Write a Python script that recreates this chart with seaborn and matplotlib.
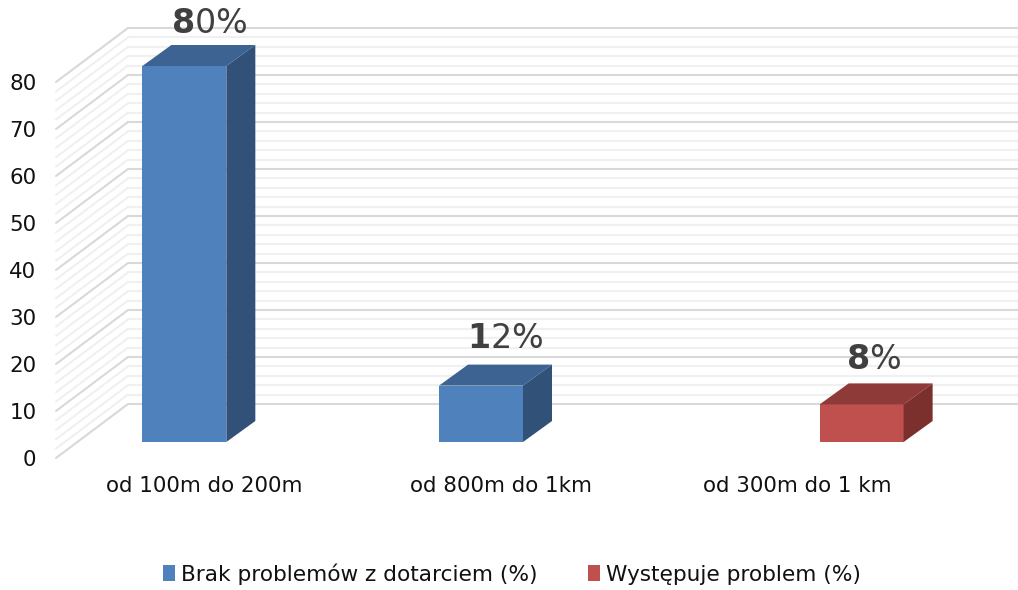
import matplotlib
matplotlib.use('Agg')
from matplotlib import pyplot as plt
from matplotlib.patches import Polygon
from matplotlib.transforms import Affine2D, IdentityTransform
import pandas as pd
import seaborn as sns

categories = ['od 100m do 200m', 'od 800m do 1km', 'od 300m do 1 km']
series_names = ['Brak problemów z dotarciem (%)', 'Występuje problem (%)']
bar_categories = ['od 100m do 200m', 'od 800m do 1km', 'od 300m do 1 km']
bar_series = [series_names[0], series_names[0], series_names[1]]
bar_values = [80, 12, 8]
y_ticks = list(range(0, 81, 10))
minor_ticks = [v for v in range(0, 81, 2) if v % 10]

FONT = 15.4
FRONT = {series_names[0]: '#4F81BD', series_names[1]: '#C0504D'}
TOP = {'#4F81BD': '#3C6392', '#C0504D': '#8E3A38'}
SIDE = {'#4F81BD': '#325178', '#C0504D': '#7C302E'}

# pixel offsets of the fake 3d depth
WALL = (72, 54)
BAR_PLANE = (22, 16)
BAR_DEPTH = (29, 21)
LABEL_LIFT = [12, 17, 14]
LABEL_SHIFT = [0, -1, -3]

sns.set_theme(style='white')
plt.rcParams['mathtext.fontset'] = 'dejavusans'

df = pd.DataFrame({'zasieg': bar_categories, 'seria': bar_series, 'procent': bar_values})

fig = plt.figure(figsize=(10.18, 5.9), dpi=100)
ax = fig.add_axes([56 / 1018, (590 - 458) / 590, 890 / 1018, 376 / 590])
sns.barplot(df, x='zasieg', y='procent', hue='seria', order=categories,
            hue_order=series_names, palette=FRONT, saturation=1, width=0.566,
            gap=0, dodge=True, linewidth=0, ax=ax, zorder=3)
ax.set_xlim(-0.5, 2.5)
ax.set_ylim(0, 80)
ax.set_xlabel('')
ax.set_ylabel('')
ax.set_yticks(y_ticks)
ax.tick_params(axis='x', length=0, pad=13, labelsize=FONT, labelcolor='#111111')
ax.tick_params(axis='y', length=0, pad=14, labelsize=FONT, labelcolor='#111111')
ax.spines[['top', 'right', 'left', 'bottom']].set_visible(False)

# back wall and left wall
fig.canvas.draw()
wall = ax.transData + Affine2D().translate(*WALL)


def to_px(x, v, dx=0, dy=0):
  px, py = ax.transData.transform((x, v))
  return px + dx, py + dy


for values, color in ((minor_ticks, '#F0F0F0'), (y_ticks, '#D9D9D9')):
  for v in values:
    ax.plot([-0.5, 2.5], [v, v], color=color, lw=1.5, transform=wall,
            clip_on=False, zorder=1, scalex=False, scaley=False)
    ax.add_line(plt.Line2D(*zip(to_px(-0.5, v), to_px(-0.5, v, *WALL)), color=color,
                           lw=1.5, transform=IdentityTransform(), clip_on=False, zorder=1))

# shift the bars to mid depth and add their top and side faces
plane = ax.transData + Affine2D().translate(*BAR_PLANE)
bars = [b for c in ax.containers for b in c if b.get_height() > 0]
bars.sort(key=lambda b: b.get_x())
for bar, lift, shift in zip(bars, LABEL_LIFT, LABEL_SHIFT):
  x0, x1 = bar.get_x(), bar.get_x() + bar.get_width()
  h = bar.get_height()
  color = matplotlib.colors.to_hex(bar.get_facecolor()).upper()
  bar.set_transform(plane)
  bar.set_clip_on(False)
  ox, oy = BAR_PLANE
  dx, dy = BAR_DEPTH
  top = [to_px(x0, h, ox, oy), to_px(x1, h, ox, oy),
         to_px(x1, h, ox + dx, oy + dy), to_px(x0, h, ox + dx, oy + dy)]
  side = [to_px(x1, 0, ox, oy), to_px(x1, h, ox, oy),
          to_px(x1, h, ox + dx, oy + dy), to_px(x1, 0, ox + dx, oy + dy)]
  ax.add_patch(Polygon(top, closed=True, fc=TOP[color], ec='none', zorder=3,
                       transform=IdentityTransform(), clip_on=False))
  ax.add_patch(Polygon(side, closed=True, fc=SIDE[color], ec='none', zorder=3,
                       transform=IdentityTransform(), clip_on=False))
  digits = str(int(h))
  label = rf'$\mathbf{{{digits[0]}}}${digits[1:]}%'
  lx, ly = to_px(x0, h, ox + dx + shift, oy + dy + lift)
  ax.text(lx, ly, label, transform=IdentityTransform(), ha='left', va='baseline',
          fontsize=24, color='#404040', clip_on=False, zorder=4)

handles, labels = ax.get_legend_handles_labels()
ax.legend(handles, labels, ncol=2, frameon=False, loc='center',
          bbox_to_anchor=(512 / 1018, 1 - 574 / 590), bbox_transform=fig.transFigure,
          fontsize=15.6, handlelength=0.55, handleheight=0.75, handletextpad=0.3,
          columnspacing=2.3, labelcolor='#111111')

plt.savefig('out.png', dpi=100)
